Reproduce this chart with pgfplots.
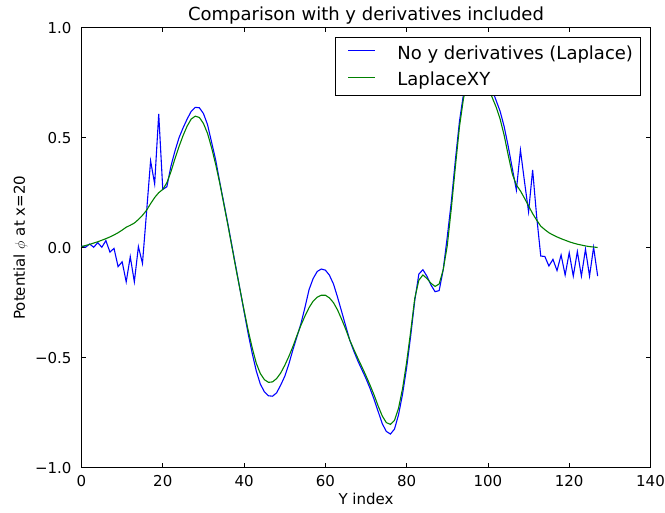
\documentclass[border=0pt]{standalone}
\usepackage{fontspec}
\setmainfont{DejaVu Sans}
\usepackage{pgfplots}
\pgfplotsset{compat=1.18}
\definecolor{mplblue}{rgb}{0,0,1}
\definecolor{mplgreen}{rgb}{0,0.5,0}
\pgfplotstableread{
i y
0 0.008
1 0.002
2 0.017
3 0.002
4 0.023
5 0.002
6 0.032
7 -0.020
8 -0.003
9 -0.086
10 -0.064
11 -0.155
12 -0.041
13 -0.155
14 0.005
15 -0.071
16 0.16
17 0.395
18 0.29
19 0.608
20 0.265
21 0.277
22 0.37
23 0.44
24 0.50
25 0.545
26 0.585
27 0.62
28 0.638
29 0.636
30 0.61
31 0.56
32 0.48
33 0.40
34 0.30
35 0.205
36 0.11
37 0.01
38 -0.09
39 -0.19
40 -0.29
41 -0.39
42 -0.48
43 -0.56
44 -0.62
45 -0.655
46 -0.673
47 -0.675
48 -0.66
49 -0.625
50 -0.585
51 -0.53
52 -0.465
53 -0.405
54 -0.345
55 -0.27
56 -0.19
57 -0.14
58 -0.108
59 -0.097
60 -0.102
61 -0.125
62 -0.165
63 -0.225
64 -0.29
65 -0.355
66 -0.42
67 -0.47
68 -0.515
69 -0.555
70 -0.595
71 -0.64
72 -0.69
73 -0.745
74 -0.80
75 -0.835
76 -0.847
77 -0.825
78 -0.76
79 -0.665
80 -0.545
81 -0.40
82 -0.24
83 -0.12
84 -0.10
85 -0.13
86 -0.17
87 -0.20
88 -0.195
89 -0.10
90 0.05
91 0.21
92 0.40
93 0.575
94 0.70
95 0.77
96 0.81
97 0.83
98 0.83
99 0.81
100 0.77
101 0.72
102 0.67
103 0.62
104 0.55
105 0.46
106 0.36
107 0.262
108 0.444
109 0.30
110 0.163
111 0.353
112 0.14
113 -0.038
114 -0.040
115 -0.083
116 -0.053
117 -0.104
118 -0.033
119 -0.124
120 -0.023
121 -0.129
122 -0.018
123 -0.129
124 -0.007
125 -0.129
126 0.002
127 -0.129
}\laplace
\pgfplotstableread{
i y
0 0.005
1 0.010
2 0.015
3 0.021
4 0.027
5 0.034
6 0.041
7 0.049
8 0.058
9 0.068
10 0.080
11 0.093
12 0.102
13 0.112
14 0.128
15 0.147
16 0.170
17 0.200
18 0.228
19 0.250
20 0.265
21 0.295
22 0.345
23 0.405
24 0.460
25 0.510
26 0.553
27 0.585
28 0.598
29 0.592
30 0.565
31 0.52
32 0.455
33 0.38
34 0.295
35 0.20
36 0.105
37 0.005
38 -0.095
39 -0.19
40 -0.285
41 -0.375
42 -0.455
43 -0.525
44 -0.572
45 -0.60
46 -0.612
47 -0.610
48 -0.595
49 -0.570
50 -0.535
51 -0.495
52 -0.45
53 -0.40
54 -0.352
55 -0.31
56 -0.272
57 -0.243
58 -0.225
59 -0.216
60 -0.216
61 -0.228
62 -0.25
63 -0.283
64 -0.325
65 -0.37
66 -0.42
67 -0.462
68 -0.503
69 -0.542
70 -0.582
71 -0.625
72 -0.67
73 -0.72
74 -0.765
75 -0.795
76 -0.803
77 -0.785
78 -0.73
79 -0.64
80 -0.52
81 -0.38
82 -0.23
83 -0.148
84 -0.124
85 -0.14
86 -0.162
87 -0.176
88 -0.165
89 -0.10
90 0.01
91 0.18
92 0.37
93 0.55
94 0.68
95 0.75
96 0.785
97 0.795
98 0.785
99 0.76
100 0.725
101 0.685
102 0.64
103 0.585
104 0.51
105 0.42
106 0.335
107 0.285
108 0.258
109 0.225
110 0.19
111 0.155
112 0.125
113 0.098
114 0.082
115 0.068
116 0.058
117 0.049
118 0.041
119 0.034
120 0.027
121 0.021
122 0.016
123 0.012
124 0.008
125 0.005
126 0.003
127 0.001
}\laplacexy
\begin{document}
\begin{tikzpicture}
\begin{axis}[
  at={(0,0)}, anchor=south west,
  scale only axis, width=569bp, height=440bp,
  xmin=0, xmax=140, ymin=-1, ymax=1,
  xtick={0,20,40,60,80,100,120,140},
  xticklabels={0,20,40,60,80,100,120,140},
  ytick={-1,-0.5,0,0.5,1},
  yticklabels={−1.0,−0.5,0.0,0.5,1.0},
  minor tick num=0,
  tick align=inside, major tick length=4.5bp,
  every tick/.style={black, line width=0.8bp},
  axis line style={black, line width=1bp},
  xticklabel style={anchor=base, inner sep=0pt, yshift=-19bp, font=\fontsize{15bp}{18bp}\selectfont},
  yticklabel style={anchor=east, inner sep=0pt, xshift=-9.8bp, font=\fontsize{15bp}{18bp}\selectfont},
  every axis x label/.style={at={(axis description cs:0.5,0)}, anchor=base, yshift=-37bp, font=\fontsize{15bp}{18bp}\selectfont},
  every axis y label/.style={at={(axis description cs:0,0.5)}, xshift=-56.5bp, rotate=90, anchor=base, font=\fontsize{15bp}{18bp}\selectfont},
  every axis title/.style={at={(axis description cs:0.5,1)}, anchor=base, yshift=6.7bp, font=\fontsize{18bp}{21bp}\selectfont},
  title={Comparison with y derivatives included},
  xlabel={Y index},
  ylabel={Potential $\phi$ at x=20},
  legend style={at={(axis description cs:1,1)}, anchor=north east, xshift=-9.5bp, yshift=-9.3bp,
    draw=black, line width=1bp, fill=white, inner xsep=7.5bp, inner ysep=6.7bp,
    row sep=8.6bp, column sep=21.4bp, font=\fontsize{18bp}{21bp}\selectfont,
    nodes={inner sep=0pt, text height=15bp, text depth=3bp}},
  legend cell align=left,
  legend image code/.code={\path (0bp,0bp); \draw[#1] (4.8bp,2.5bp) -- (31.8bp,2.5bp);},
]
\addplot[mplblue, line width=1.1bp, mark=none] table[x=i, y=y] {\laplace};
\addlegendentry{No y derivatives (Laplace)}
\addplot[mplgreen, line width=1.1bp, mark=none] table[x=i, y=y] {\laplacexy};
\addlegendentry{LaplaceXY}
\end{axis}
\pgfresetboundingbox
\path (-81.5bp,-45.3bp) rectangle (583.5bp,467.7bp);
\end{tikzpicture}
\end{document}
